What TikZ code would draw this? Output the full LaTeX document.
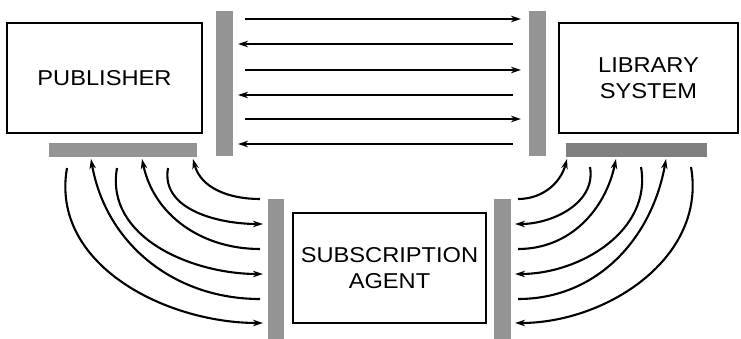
\documentclass[tikz,border=0pt]{standalone}
\usepackage{fontspec}
\setmainfont[FakeStretch=1.1]{Liberation Sans}
\usetikzlibrary{arrows.meta}
\begin{document}
\begin{tikzpicture}[x=1pt,y=-1pt,
  box/.style={draw=black,line width=1.2pt,inner sep=0pt,align=center,
    font=\fontsize{21.5}{26.5}\selectfont},
  bar/.style={fill=black!42,draw=none,inner sep=0pt},
  darkbar/.style={fill=black!50,draw=none,inner sep=0pt},
  flow/.style={line width=2.1pt,-{Stealth[length=10pt,width=6.5pt]}},
  plain/.style={line width=2.1pt}]
\useasboundingbox (0,0) rectangle (741,338);
% boxes
\node[box,minimum width=195pt,minimum height=110pt] (pub) at (104.5,78) {PUBLISHER};
\node[box,minimum width=179pt,minimum height=110pt] (lib) at (648.5,78) {LIBRARY\\SYSTEM};
\node[box,minimum width=193pt,minimum height=110pt] (agent) at (389.5,268) {SUBSCRIPTION\\AGENT};
% bars
\node[bar,minimum width=148pt,minimum height=14pt] (pubbar) at (123,150) {};
\node[darkbar,minimum width=141pt,minimum height=14pt] (libbar) at (636.5,150) {};
\node[bar,minimum width=17pt,minimum height=145pt] (lv) at (224.5,83.5) {};
\node[bar,minimum width=17pt,minimum height=145pt] (rv) at (537.5,83.5) {};
\node[bar,minimum width=16pt,minimum height=140pt] (al) at (276,269) {};
\node[bar,minimum width=17pt,minimum height=140pt] (ar) at (502.5,269) {};
% straight arrows between publisher and library bars
\foreach \y/\i in {19/1,70/3,119/5}{
  \coordinate (hs\i) at (245,\y);
  \coordinate (he\i) at (521,\y);
  \draw[flow] (hs\i) -- (he\i);
}
\foreach \y/\i in {44/2,95/4,144/6}{
  \coordinate (hs\i) at (513,\y);
  \coordinate (he\i) at (238,\y);
  \draw[flow] (hs\i) -- (he\i);
}
% left curves (publisher <-> agent)
\coordinate (pa1) at (193,159); \coordinate (pa2) at (168,168);
\coordinate (pa3) at (142,159); \coordinate (pa4) at (117,168);
\coordinate (pa5) at (91,159);  \coordinate (pa6) at (67,168);
\coordinate (ql1) at (260,199); \coordinate (ql2) at (263,224);
\coordinate (ql3) at (260,249); \coordinate (ql4) at (263,274);
\coordinate (ql5) at (260,299); \coordinate (ql6) at (263,323);
\draw[flow] (ql1) to[out=180,in=-75] (pa1);
\draw[flow] (pa2) to[out=-100,in=180] (ql2);
\draw[flow] (ql3) to[out=180,in=-78] (pa3);
\draw[flow] (pa4) to[out=-100,in=180] (ql4);
\draw[flow] (ql5) to[out=180,in=-80] (pa5);
\draw[flow] (pa6) to[out=-100,in=180] (ql6);
% right curves (library <-> agent)
\coordinate (lb1) at (567,159); \coordinate (lb2) at (590,167);
\coordinate (lb3) at (616,159); \coordinate (lb4) at (641,167);
\coordinate (lb5) at (666,159); \coordinate (lb6) at (691,167);
\coordinate (qr1) at (518,199); \coordinate (qr2) at (515,224);
\coordinate (qr3) at (518,249); \coordinate (qr4) at (515,274);
\coordinate (qr5) at (518,299); \coordinate (qr6) at (515,323);
\draw[flow] (qr1) to[out=0,in=-105] (lb1);
\draw[flow] (lb2) to[out=-80,in=0] (qr2);
\draw[flow] (qr3) to[out=0,in=-102] (lb3);
\draw[flow] (lb4) to[out=-80,in=0] (qr4);
\draw[flow] (qr5) to[out=0,in=-100] (lb5);
\draw[flow] (lb6) to[out=-80,in=0] (qr6);
\end{tikzpicture}
\end{document}
